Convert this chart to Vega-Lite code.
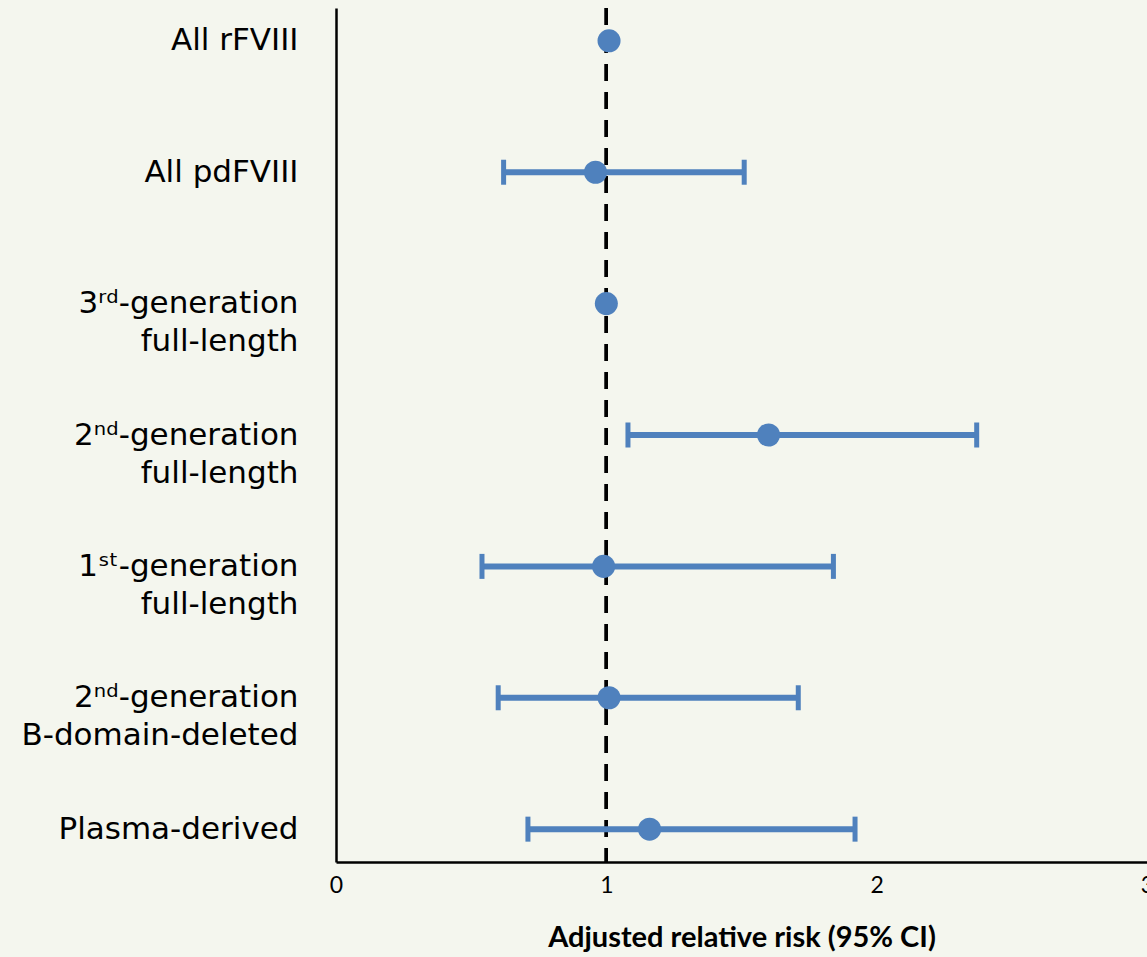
{
  "$schema": "https://vega.github.io/schema/vega-lite/v6.json",
  "width": 811,
  "height": 854,
  "autosize": {"type": "none"},
  "padding": {"left": 336, "top": 8, "right": 0, "bottom": 95},
  "background": "#f4f6ee",
  "config": {
    "view": {"stroke": null},
    "axisX": {
      "grid": false,
      "ticks": false,
      "domain": true,
      "domainColor": "black",
      "domainWidth": 2.5,
      "labelFont": "Lato",
      "labelFontSize": 23,
      "labelColor": "black",
      "labelPadding": 12,
      "labelFlush": false,
      "labelOverlap": false,
      "titleFont": "Lato",
      "titleFontSize": 29,
      "titleFontWeight": "bold",
      "titleColor": "black",
      "titlePadding": 26
    },
    "axisY": {
      "grid": false,
      "ticks": false,
      "domain": true,
      "domainColor": "black",
      "domainWidth": 2.5,
      "labelFont": "DejaVu Sans",
      "labelFontSize": 31,
      "labelColor": "black",
      "labelPadding": 38,
      "labelLimit": 400,
      "labelLineHeight": 38,
      "labelBaseline": "middle"
    }
  },
  "data": {
    "values": [
      {"group": "All rFVIII", "rr": 1.01, "lo": null, "hi": null},
      {"group": "All pdFVIII", "rr": 0.96, "lo": 0.62, "hi": 1.51},
      {"group": "3ʳᵈ-generation|full-length", "rr": 1.0, "lo": null, "hi": null},
      {"group": "2ⁿᵈ-generation|full-length", "rr": 1.6, "lo": 1.08, "hi": 2.37},
      {"group": "1ˢᵗ-generation|full-length", "rr": 0.99, "lo": 0.54, "hi": 1.84},
      {"group": "2ⁿᵈ-generation|B-domain-deleted", "rr": 1.01, "lo": 0.6, "hi": 1.71},
      {"group": "Plasma-derived", "rr": 1.16, "lo": 0.71, "hi": 1.92}
    ]
  },
  "layer": [
    {
      "mark": {"type": "rule", "color": "black", "strokeWidth": 3, "strokeDash": [17, 11]},
      "encoding": {
        "x": {"datum": 1, "type": "quantitative"}
      }
    },
    {
      "transform": [{"filter": "datum.lo != null"}],
      "mark": {"type": "rule", "color": "#4f81bd", "strokeWidth": 6},
      "encoding": {
        "x": {"field": "lo", "type": "quantitative"},
        "x2": {"field": "hi"},
        "y": {"field": "group", "type": "nominal"}
      }
    },
    {
      "transform": [{"filter": "datum.lo != null"}],
      "mark": {"type": "tick", "color": "#4f81bd", "orient": "vertical", "size": 25, "thickness": 5, "opacity": 1},
      "encoding": {
        "x": {"field": "lo", "type": "quantitative"},
        "y": {"field": "group", "type": "nominal"}
      }
    },
    {
      "transform": [{"filter": "datum.lo != null"}],
      "mark": {"type": "tick", "color": "#4f81bd", "orient": "vertical", "size": 25, "thickness": 5, "opacity": 1},
      "encoding": {
        "x": {"field": "hi", "type": "quantitative"},
        "y": {"field": "group", "type": "nominal"}
      }
    },
    {
      "mark": {"type": "circle", "color": "#4f81bd", "size": 531, "opacity": 1},
      "encoding": {
        "x": {
          "field": "rr",
          "type": "quantitative",
          "scale": {"domain": [0, 3], "nice": false, "zero": true},
          "axis": {
            "title": "Adjusted relative risk (95% CI)",
            "values": [0, 1, 2, 3],
            "format": "d",
            "labelFontSize": 23
          }
        },
        "y": {
          "field": "group",
          "type": "nominal",
          "scale": {
            "type": "point",
            "padding": 0.25,
            "domain": [
              "All rFVIII",
              "All pdFVIII",
              "3ʳᵈ-generation|full-length",
              "2ⁿᵈ-generation|full-length",
              "1ˢᵗ-generation|full-length",
              "2ⁿᵈ-generation|B-domain-deleted",
              "Plasma-derived"
            ]
          },
          "axis": {
            "title": null,
            "labelExpr": "split(datum.label, '|')"
          }
        }
      }
    }
  ]
}
